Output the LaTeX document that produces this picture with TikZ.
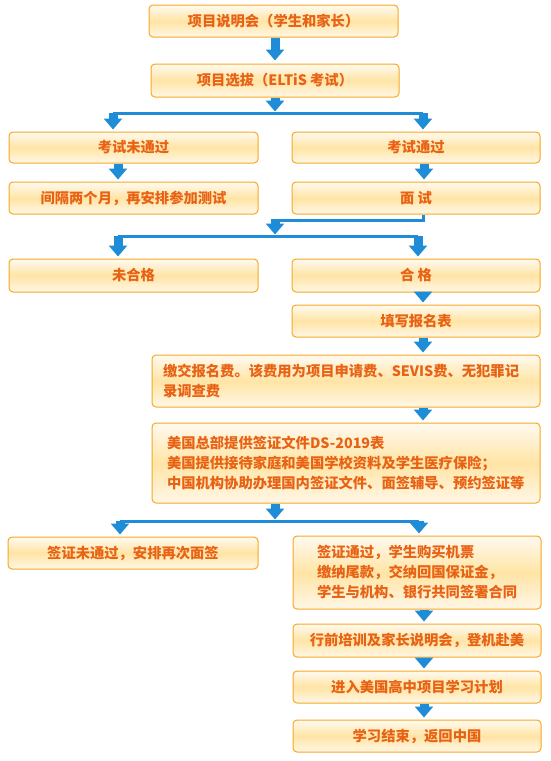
\documentclass[tikz,border=0pt]{standalone}
\usepackage{fontspec}
\setmainfont{Noto Sans CJK SC}
\usetikzlibrary{arrows.meta}
\definecolor{flowblue}{RGB}{30,140,215}
\definecolor{boxline}{RGB}{247,168,35}
\definecolor{boxtext}{RGB}{232,98,20}
\definecolor{boxtop}{RGB}{255,250,240}
\definecolor{boxmid}{RGB}{255,228,165}
\definecolor{boxbot}{RGB}{255,247,230}
\tikzset{
  stepbox/.style={draw=boxline, line width=1pt, rounded corners=4pt,
    top color=boxtop, bottom color=boxbot, middle color=boxmid,
    text=boxtext, font=\fontsize{14.3}{20}\selectfont\bfseries,
    inner sep=0pt, align=center},
  notebox/.style={stepbox, align=left},
  blockarrow/.style={draw=flowblue, line width=9pt, -{Triangle[width=18pt,length=11pt]}},
  link/.style={draw=flowblue, line width=3pt}
}
\begin{document}
\begin{tikzpicture}[x=1pt,y=-1pt]
    \fill[white] (0,0) rectangle (551,761);
    \useasboundingbox (0,0) rectangle (551,761);
    % boxes
    \node[stepbox, minimum width=249pt, minimum height=32pt] (intro) at (273.5,21) {项目说明会（学生和家长）};
    \node[stepbox, minimum width=248pt, minimum height=33pt] (select) at (275,80.5) {项目选拔（ELTiS 考试）};
    \node[stepbox, minimum width=249pt, minimum height=31pt] (failexam) at (133.5,147.5) {考试未通过};
    \node[stepbox, minimum width=248pt, minimum height=31pt] (passexam) at (416,147.5) {考试通过};
    \node[stepbox, minimum width=249pt, minimum height=32pt] (retest) at (133.5,198) {间隔两个月，再安排参加测试};
    \node[stepbox, minimum width=248pt, minimum height=32pt] (interview) at (416,198) {面 试};
    \node[stepbox, minimum width=249pt, minimum height=33pt] (unqual) at (133.5,275.5) {未合格};
    \node[stepbox, minimum width=248pt, minimum height=33pt] (qual) at (416,275.5) {合 格};
    \node[stepbox, minimum width=248pt, minimum height=32pt] (form) at (416,321) {填写报名表};
    \node[notebox, inner xsep=11pt, text width=366pt, minimum height=52pt] (fee) at (346,381)
      {缴交报名费。该费用为项目申请费、SEVIS费、无犯罪记\\录调查费};
    \node[notebox, inner xsep=15pt, text width=358pt, minimum height=80pt] (docs) at (346,463)
      {美国总部提供签证文件DS-2019表\\美国提供接待家庭和美国学校资料及学生医疗保险；\\中国机构协助办理国内签证文件、面签辅导、预约签证等};
    \node[stepbox, minimum width=250pt, minimum height=32pt] (visafail) at (133,553) {签证未通过，安排再次面签};
    \node[notebox, inner xsep=24pt, text width=200pt, minimum height=73pt] (visapass) at (417,572.5)
      {签证通过，学生购买机票\\缴纳尾款，交纳回国保证金，\\学生与机构、银行共同签署合同};
    \node[stepbox, minimum width=248pt, minimum height=33pt] (depart) at (417,640.5) {行前培训及家长说明会，登机赴美};
    \node[stepbox, minimum width=248pt, minimum height=32pt] (study) at (417,687) {进入美国高中项目学习计划};
    \node[stepbox, minimum width=248pt, minimum height=32pt] (home) at (417,736) {学习结束，返回中国};
    % branch points
    \coordinate (split1) at (275,113);
    \coordinate (split1l) at (113,113);
    \coordinate (split1r) at (423,113);
    \coordinate (merge) at (275,220);
    \coordinate (split2) at (275,236);
    \coordinate (split2l) at (118,236);
    \coordinate (split2r) at (418,236);
    \coordinate (split3) at (275,521);
    \coordinate (split3l) at (120,521);
    \coordinate (split3r) at (419,521);
    % connectors
    \draw[blockarrow, shorten >=3pt] ([xshift=1.5pt]intro.south) -- (select.north);
    \draw[blockarrow, shorten >=1.5pt] (select.south) -- (split1);
    \draw[link] (split1l) -- (split1r);
    \draw[blockarrow, shorten >=2pt] (split1l) -- (split1l |- failexam.north);
    \draw[blockarrow, shorten >=2pt] (split1r) -- (split1r |- passexam.north);
    \draw[blockarrow, shorten >=2pt] ([xshift=-15.5pt]failexam.south) -- ([xshift=-15.5pt]retest.north);
    \draw[blockarrow, shorten >=2pt] ([xshift=8pt]passexam.south) -- ([xshift=8pt]interview.north);
    \draw[link] ([xshift=7pt]interview.south) |- (merge);
    \draw[blockarrow, shorten >=1.5pt] ([yshift=1.5pt]merge) -- (split2);
    \draw[link] (split2l) -- (split2r);
    \draw[blockarrow, shorten >=2pt] (split2l) -- (split2l |- unqual.north);
    \draw[blockarrow, shorten >=2pt] (split2r) -- (split2r |- qual.north);
    \draw[blockarrow, shorten >=2pt] ([xshift=7pt]qual.south) -- ([xshift=7pt]form.north);
    \draw[blockarrow, shorten >=2pt] ([xshift=7pt]form.south) -- ([xshift=7pt]form.south |- fee.north);
    \draw[blockarrow, shorten >=2pt] ([xshift=77pt]fee.south) -- ([xshift=77pt]docs.north);
    \draw[blockarrow, shorten >=1.5pt] (docs.south -| split3) -- (split3);
    \draw[link] (split3l) -- (split3r);
    \draw[blockarrow, shorten >=2pt] (split3l) -- (split3l |- visafail.north);
    \draw[blockarrow, shorten >=2pt] (split3r) -- (split3r |- visapass.north);
    \draw[blockarrow, shorten >=2pt] ([xshift=7pt]visapass.south) -- ([xshift=7pt]depart.north);
    \draw[blockarrow, shorten >=2pt] ([xshift=7pt]depart.south) -- ([xshift=7pt]study.north);
    \draw[blockarrow, shorten >=2pt] ([xshift=7pt]study.south) -- ([xshift=7pt]home.north);
  \end{tikzpicture}
\end{document}
